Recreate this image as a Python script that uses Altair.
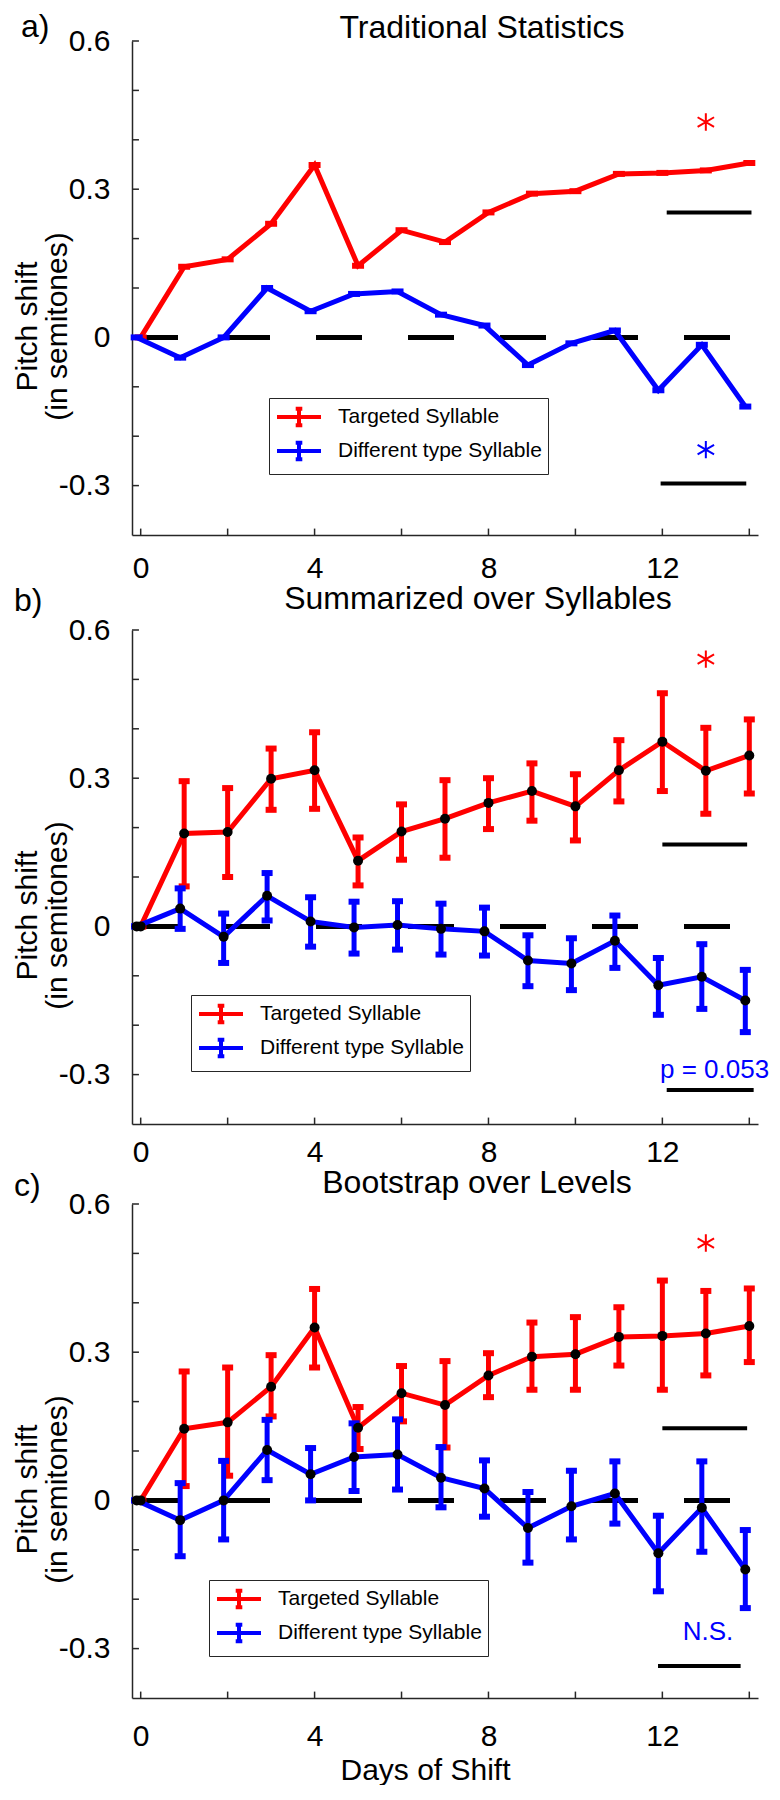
import altair as alt
import pandas as pd

FONT = "Liberation Sans"
DAYS = list(range(15))
SERIES = ["Targeted Syllable", "Different type Syllable"]
COLORS = ["#ff0000", "#0000ff"]

# ---- panel a (Traditional Statistics) means
trad_target = [0, 0.143, 0.158, 0.230, 0.349, 0.145, 0.217, 0.193, 0.253, 0.291, 0.296, 0.331, 0.333, 0.338, 0.353]
trad_other = [0, -0.041, 0.0, 0.100, 0.053, 0.088, 0.093, 0.046, 0.024, -0.056, -0.012, 0.014, -0.107, -0.015, -0.140]

# ---- panel b (Summarized over Syllables)
sum_target = [0, 0.188, 0.191, 0.299, 0.316, 0.133, 0.192, 0.218, 0.250, 0.274, 0.243, 0.316, 0.374, 0.315, 0.346]
sum_target_hi = [0, 0.294, 0.280, 0.360, 0.393, 0.180, 0.247, 0.296, 0.300, 0.330, 0.308, 0.377, 0.472, 0.402, 0.419]
sum_target_lo = [0, 0.081, 0.100, 0.236, 0.238, 0.083, 0.135, 0.139, 0.197, 0.214, 0.174, 0.253, 0.274, 0.228, 0.269]
sum_other = [0, 0.036, -0.021, 0.062, 0.010, -0.002, 0.003, -0.005, -0.010, -0.069, -0.075, -0.029, -0.119, -0.102, -0.150]
sum_other_hi = [0, 0.077, 0.026, 0.108, 0.059, 0.050, 0.051, 0.046, 0.038, -0.018, -0.024, 0.022, -0.064, -0.036, -0.088]
sum_other_lo = [0, -0.005, -0.074, 0.012, -0.041, -0.055, -0.047, -0.057, -0.059, -0.121, -0.129, -0.084, -0.179, -0.167, -0.214]

# ---- panel c (Bootstrap over Levels)
boot_target = [0, 0.145, 0.158, 0.230, 0.350, 0.147, 0.217, 0.193, 0.253, 0.291, 0.296, 0.331, 0.333, 0.338, 0.353]
boot_target_hi = [0, 0.261, 0.269, 0.294, 0.428, 0.189, 0.272, 0.282, 0.298, 0.360, 0.371, 0.391, 0.445, 0.424, 0.429]
boot_target_lo = [0, 0.029, 0.050, 0.170, 0.269, 0.104, 0.160, 0.107, 0.209, 0.224, 0.224, 0.273, 0.224, 0.253, 0.280]
boot_other = [0, -0.040, 0.0, 0.102, 0.053, 0.088, 0.093, 0.046, 0.024, -0.056, -0.012, 0.014, -0.107, -0.015, -0.140]
boot_other_hi = [0, 0.035, 0.080, 0.163, 0.106, 0.156, 0.164, 0.108, 0.081, 0.017, 0.060, 0.079, -0.031, 0.079, -0.060]
boot_other_lo = [0, -0.113, -0.079, 0.041, 0.0, 0.019, 0.022, -0.014, -0.033, -0.126, -0.079, -0.047, -0.184, -0.104, -0.218]

# ---- significance annotations (x start, x end, y)
a_bars = [(12.1, 14.05, 0.253), (11.96, 13.93, -0.296)]
a_stars = [(13.0, 0.436, "#ff0000"), (13.0, -0.227, "#0000ff")]
b_bars = [(12.0, 13.95, 0.166), (12.1, 14.1, -0.331)]
b_stars = [(13.0, 0.541, "#ff0000")]
b_notes = [(13.2, -0.29, "p = 0.053", "#0000ff")]
c_bars = [(12.0, 13.95, 0.146), (11.9, 13.8, -0.335)]
c_stars = [(13.0, 0.521, "#ff0000")]
c_notes = [(13.05, -0.266, "N.S.", "#0000ff")]

X_DOMAIN = [-0.2, 14.2]
Y_DOMAIN = [-0.4, 0.6]
X_TICKS = [0, 2, 4, 6, 8, 10, 12, 14]
X_LABELS = [0, 4, 8, 12]
Y_TICKS = [-0.3, -0.2, -0.1, 0.0, 0.1, 0.2, 0.3, 0.4, 0.5, 0.6]
Y_LABELS = [-0.3, 0.0, 0.3, 0.6]

W, H = 626, 494
STAR = "M0,-1L0,1M-0.95,-0.55L0.95,0.55M-0.95,0.55L0.95,-0.55"
LEG_SYM = "M-2,0L2,0M0,-0.75L0,0.75M-0.3,-0.75L0.3,-0.75M-0.3,0.75L0.3,0.75"

xs = alt.Scale(domain=X_DOMAIN, nice=False, zero=False)
ys = alt.Scale(domain=Y_DOMAIN, nice=False, zero=False)
cs = alt.Scale(domain=SERIES, range=COLORS)


def panel(title, tag, tag_xy, tgt, oth, errs, bars, stars, notes, leg_xy,
          label_pad, title_offset, title_dx, x_title=None):
    x_axis_kw = dict(values=X_LABELS, labelPadding=label_pad, format="d")
    if x_title:
        x_axis_kw.update(titlePadding=4, titleX=293)
    x_axis = alt.Axis(**x_axis_kw)
    y_axis = alt.Axis(
        values=Y_LABELS,
        labelExpr="datum.value == 0 ? '0' : (datum.value < 0 ? '-' + format(-datum.value, '.1f') : format(datum.value, '.1f'))",
    )

    def X(f):
        return alt.X(f"{f}:Q", scale=xs, axis=x_axis, title=x_title)

    def Y(f):
        return alt.Y(f"{f}:Q", scale=ys, axis=y_axis, title=["Pitch shift", "(in semitones)"])

    legend = alt.Legend(
        title=None, orient="none", legendX=leg_xy[0], legendY=leg_xy[1],
        direction="vertical", fillColor="white", strokeColor="#262626",
        padding=6, labelFont=FONT, labelFontSize=21, labelColor="black", labelLimit=0,
        symbolType=LEG_SYM, symbolSize=484, symbolStrokeWidth=4,
        symbolOffset=11, labelOffset=26, rowPadding=0,
    )

    layers = []
    # dashed zero line
    layers.append(
        alt.Chart(pd.DataFrame({"x0": [X_DOMAIN[0]], "x1": [X_DOMAIN[1]], "y": [0.0]}))
        .mark_rule(color="black", strokeWidth=5, strokeDash=[46, 46])
        .encode(x=X("x0"), x2="x1", y=Y("y"))
    )
    # inward ticks
    layers.append(
        alt.Chart(pd.DataFrame({"y": Y_TICKS, "x0": [X_DOMAIN[0]] * len(Y_TICKS),
                                "x1": [X_DOMAIN[0] + 0.16] * len(Y_TICKS)}))
        .mark_rule(color="#262626", strokeWidth=1.5)
        .encode(x=X("x0"), x2="x1", y=Y("y"))
    )
    layers.append(
        alt.Chart(pd.DataFrame({"x": X_TICKS, "y0": [Y_DOMAIN[0]] * len(X_TICKS),
                                "y1": [Y_DOMAIN[0] + 0.013] * len(X_TICKS)}))
        .mark_rule(color="#262626", strokeWidth=1.5)
        .encode(x=X("x"), y=Y("y0"), y2="y1")
    )
    # significance bars
    layers.append(
        alt.Chart(pd.DataFrame({"x0": [b[0] for b in bars], "x1": [b[1] for b in bars],
                                "y": [b[2] for b in bars]}))
        .mark_rule(color="black", strokeWidth=4)
        .encode(x=X("x0"), x2="x1", y=Y("y"))
    )

    series = [(SERIES[0], COLORS[0], tgt, 0), (SERIES[1], COLORS[1], oth, -4)]
    for i, (name, col, vals, off) in enumerate(series):
        df = pd.DataFrame({"day": DAYS, "v": vals, "s": [name] * len(DAYS)})
        if errs is not None:
            df["lo"] = errs[i][0]
            df["hi"] = errs[i][1]
        layers.append(
            alt.Chart(df).mark_line(strokeWidth=5, xOffset=off)
            .encode(x=X("day"), y=Y("v"), color=alt.Color("s:N", scale=cs, legend=legend))
        )
        if errs is not None:
            layers.append(
                alt.Chart(df).mark_rule(color=col, strokeWidth=5, xOffset=off)
                .encode(x=X("day"), y=Y("lo"), y2="hi")
            )
            for f in ("lo", "hi"):
                layers.append(
                    alt.Chart(df).mark_tick(color=col, orient="horizontal", size=11,
                                            thickness=6, opacity=1, xOffset=off)
                    .encode(x=X("day"), y=Y(f))
                )
        else:
            layers.append(
                alt.Chart(df).mark_tick(color=col, orient="horizontal", size=12,
                                        thickness=6, opacity=1, xOffset=off)
                .encode(x=X("day"), y=Y("v"))
            )
    if errs is not None:
        for name, col, vals, off in series:
            df = pd.DataFrame({"day": DAYS, "v": vals})
            layers.append(
                alt.Chart(df).mark_circle(color="black", size=100, opacity=1, xOffset=off)
                .encode(x=X("day"), y=Y("v"))
            )
    for sx, sy, scol in stars:
        layers.append(
            alt.Chart(pd.DataFrame({"x": [sx], "y": [sy]}))
            .mark_point(shape=STAR, size=300, filled=False, color=scol, strokeWidth=2, opacity=1)
            .encode(x=X("x"), y=Y("y"))
        )
    for nx, ny, ntext, ncol in notes:
        layers.append(
            alt.Chart(pd.DataFrame({"x": [nx], "y": [ny], "t": [ntext]}))
            .mark_text(font=FONT, fontSize=26, color=ncol, align="center", baseline="middle")
            .encode(x=X("x"), y=Y("y"), text="t:N")
        )
    layers.append(
        alt.Chart(pd.DataFrame({"t": [tag]}))
        .mark_text(font=FONT, fontSize=32, color="black", align="left", baseline="alphabetic")
        .encode(x=alt.value(tag_xy[0]), y=alt.value(tag_xy[1]), text="t:N")
    )

    return alt.layer(*layers).properties(
        width=W, height=H,
        title=alt.TitleParams(text=title, font=FONT, fontSize=32, fontWeight="normal",
                              color="black", offset=title_offset, dx=title_dx, anchor="middle"),
    )


pa = panel("Traditional Statistics", "a)", (-111, -4), trad_target, trad_other, None,
           a_bars, a_stars, [], (137, 357), 18, -34, 37)
pb = panel("Summarized over Syllables", "b)", (-118, -19), sum_target, sum_other,
           [(sum_target_lo, sum_target_hi), (sum_other_lo, sum_other_hi)],
           b_bars, b_stars, b_notes, (59, 365), 13, -31, 33)
pc = panel("Bootstrap over Levels", "c)", (-118, -8), boot_target, boot_other,
           [(boot_target_lo, boot_target_hi), (boot_other_lo, boot_other_hi)],
           c_bars, c_stars, c_notes, (77, 376), 23, -30, 32, x_title="Days of Shift")

chart = (
    alt.vconcat(pa, pb, pc, spacing=0)
    .resolve_legend(color="independent")
    .properties(padding={"left": 4, "top": 3, "right": 0, "bottom": 0})
    .configure_view(stroke=None)
    .configure_axis(
        grid=False, domainColor="#262626", domainWidth=1.5, tickSize=0,
        labelFont=FONT, labelFontSize=30, labelColor="black",
        titleFont=FONT, titleFontSize=30, titleFontWeight="normal", titleColor="black",
    )
    .configure_axisY(labelPadding=22, titleY=285, titleAngle=-90, titleAlign="center",
                     titlePadding=-14, titleLineHeight=30)
)

chart.save("out.html", embed_options={"renderer": "svg", "actions": False})
